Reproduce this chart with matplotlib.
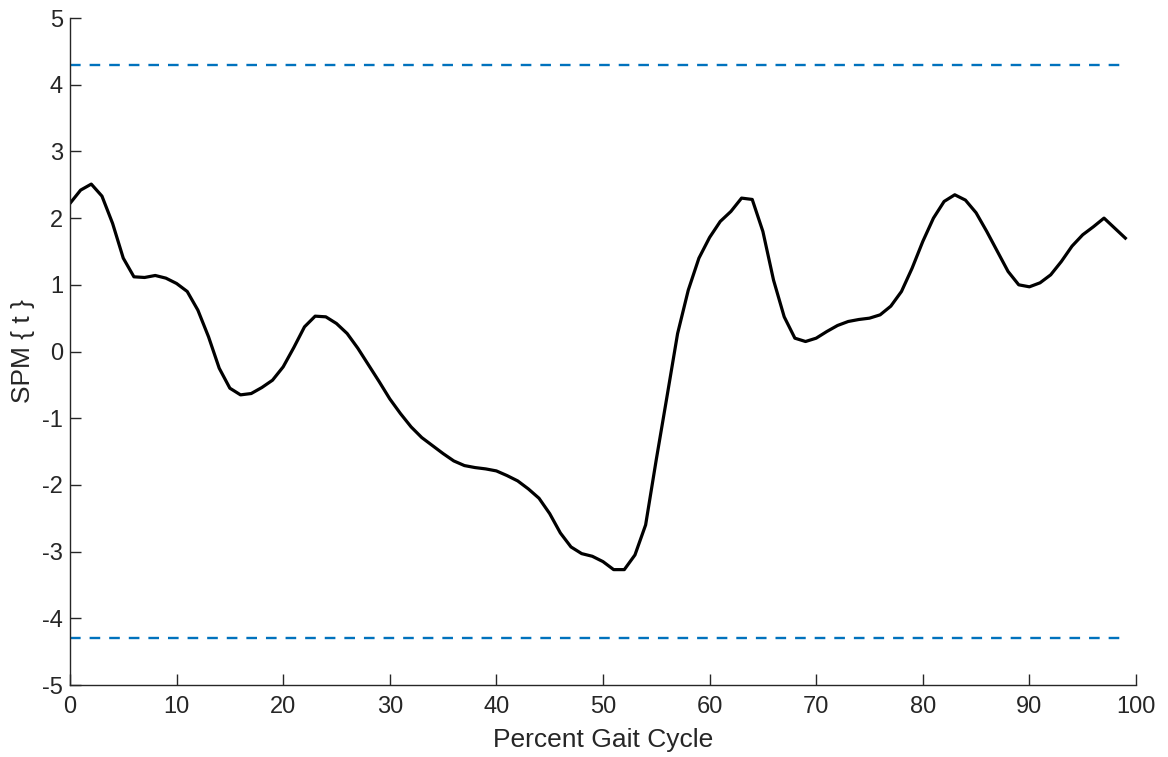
import numpy as np
import matplotlib
matplotlib.use("Agg")
import matplotlib.pyplot as plt

# SPM{t} trajectory, one value per percent of gait cycle (0..99)
gait_pct = np.arange(100)
spm_t = [
    2.22, 2.42, 2.51, 2.33, 1.92, 1.40, 1.12, 1.11, 1.14, 1.10,
    1.02, 0.90, 0.62, 0.22, -0.25, -0.55, -0.65, -0.63, -0.54, -0.43,
    -0.23, 0.06, 0.37, 0.53, 0.52, 0.42, 0.27, 0.05, -0.20, -0.45,
    -0.71, -0.93, -1.13, -1.29, -1.41, -1.53, -1.64, -1.71, -1.74, -1.76,
    -1.79, -1.86, -1.94, -2.06, -2.20, -2.43, -2.72, -2.93, -3.03, -3.07,
    -3.15, -3.27, -3.27, -3.05, -2.60, -1.62, -0.68, 0.27, 0.92, 1.40,
    1.71, 1.95, 2.10, 2.30, 2.28, 1.80, 1.07, 0.52, 0.20, 0.15,
    0.20, 0.30, 0.39, 0.45, 0.48, 0.50, 0.55, 0.68, 0.90, 1.25,
    1.65, 2.00, 2.25, 2.35, 2.27, 2.08, 1.80, 1.50, 1.20, 1.00,
    0.97, 1.03, 1.15, 1.35, 1.58, 1.75, 1.87, 2.00, 1.85, 1.70,
]

# critical threshold
t_crit = 4.3

plt.rcParams['font.family'] = ['Liberation Sans', 'DejaVu Sans']
plt.rcParams['axes.unicode_minus'] = False
text_col = "#262626"

fig = plt.figure(figsize=(11.68, 7.57), dpi=100)
ax = fig.add_axes([0.0599, 0.0951, 0.9127, 0.8811])

ax.plot(gait_pct, spm_t, color="black", lw=2.3)
ax.hlines([t_crit, -t_crit], gait_pct[0], gait_pct[-1], color="#0072BD",
          lw=1.7, linestyles=[(0, (4.5, 3.8))])

ax.set_xlim(0, 100)
ax.set_ylim(-5, 5)
ax.set_xticks(np.arange(0, 101, 10))
ax.set_yticks(np.arange(-5, 6, 1))

for side in ["top", "right"]:
    ax.spines[side].set_visible(False)
for side in ["left", "bottom"]:
    ax.spines[side].set_color(text_col)
    ax.spines[side].set_linewidth(1.0)

ax.tick_params(direction="in", length=8, width=1.0, colors=text_col,
               labelsize=17)
ax.tick_params(axis="x", pad=8)
ax.tick_params(axis="y", pad=5)
ax.set_xlabel("Percent Gait Cycle", fontsize=19, color=text_col, labelpad=7)
ax.set_ylabel("SPM { t }", fontsize=19, color=text_col, labelpad=5)

fig.savefig("out.png", dpi=100)
